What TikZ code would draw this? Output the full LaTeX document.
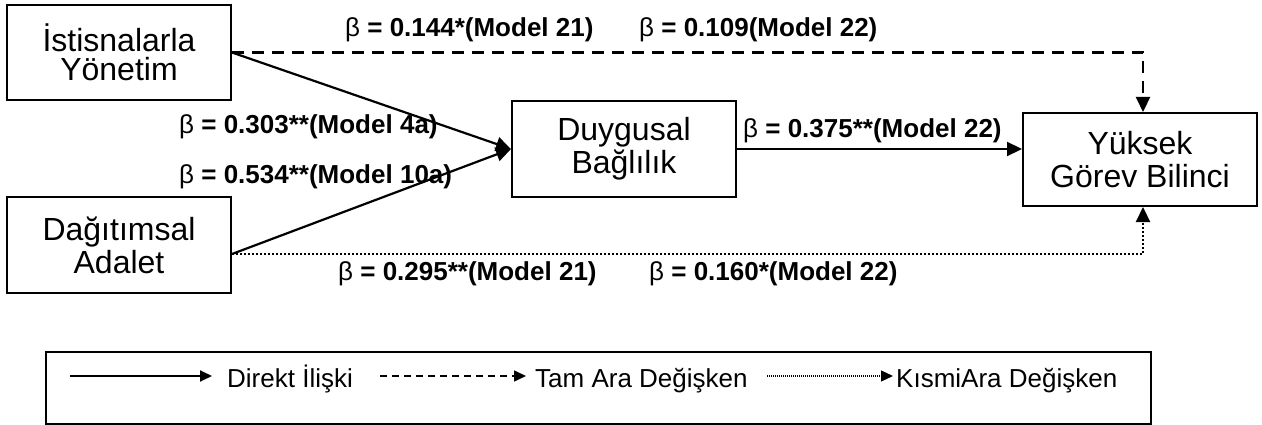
\documentclass[tikz,border=0pt]{standalone}
\usepackage{fontspec}
\setmainfont{Liberation Sans}
\usetikzlibrary{arrows.meta}
\tikzset{
  x=1pt,y=-1pt,
  box/.style={draw,line width=2pt,inner sep=0pt,align=center,font=\fontsize{32}{33}\selectfont},
  lbl/.style={anchor=base west,inner sep=0pt,font=\fontsize{26}{28}\selectfont},
  legtxt/.style={anchor=base west,inner sep=0pt,font=\fontsize{26}{28}\selectfont},
  conn/.style={line width=2.2pt,-{Triangle[length=15pt,width=14pt]}},
  dashconn/.style={conn,dash pattern=on 12pt off 8pt},
  dotconn/.style={conn,dash pattern=on 2pt off 2pt},
  legconn/.style={line width=1.8pt,-{Triangle[length=12pt,width=11pt]}},
}
\newcommand{\bl}[1]{β\textbf{ = #1}}
\begin{document}
\begin{tikzpicture}
\useasboundingbox (0,0) rectangle (1262,425);
% boxes
\node[box,minimum width=224pt,minimum height=95pt,font=\fontsize{32}{29}\selectfont] (b1) at (119,52.5) {İstisnalarla\\Yönetim};
\node[box,minimum width=224pt,minimum height=96pt] (b2) at (119,245) {Dağıtımsal\\Adalet};
\node[box,minimum width=224pt,minimum height=96pt] (b3) at (624,149) {Duygusal\\Bağlılık};
\node[box,minimum width=234pt,minimum height=93pt] (b4) at (1140,159.5) {Yüksek\\Görev Bilinci};
% connectors
\draw[conn] (b1.east) -- (b3.west);
\draw[conn] ([yshift=-9pt]b2.east) -- (b3.west);
\draw[conn] (b3.east) -- (b3.east -| b4.west);
\draw[dashconn] (b1.east) -| ([xshift=3pt]b4.north);
\draw[dotconn] ([yshift=-9pt]b2.east) -| ([xshift=3pt]b4.south);
% labels
\node[lbl] (l1) at (345,37) {\bl{0.144*(Model 21)}};
\node[lbl] (l2) at (639,37) {\bl{0.109(Model 22)}};
\node[lbl] (l3) at (179,134) {\bl{0.303**(Model 4a)}};
\node[lbl] (l4) at (179,184) {\bl{0.534**(Model 10a)}};
\node[lbl] (l5) at (743,138) {\bl{0.375**(Model 22)}};
\node[lbl] (l6) at (338,280) {\bl{0.295**(Model 21)}};
\node[lbl] (l7) at (649,280) {\bl{0.160*(Model 22)}};
% legend
\node[draw,line width=2.2pt,minimum width=1105pt,minimum height=72pt,inner sep=0pt] (leg) at (598.5,388) {};
\coordinate (s1) at (70,376);
\coordinate (e1) at (212,376);
\coordinate (s2) at (380,376);
\coordinate (e2) at (526,376);
\coordinate (s3) at (767,376);
\coordinate (e3) at (893,376);
\draw[legconn] (s1) -- (e1);
\draw[legconn,dash pattern=on 7pt off 5pt,line width=1.5pt] (s2) -- (e2);
\draw[legconn,dash pattern=on 1pt off 1pt,line width=1.2pt] (s3) -- (e3);
\node[legtxt] (t1) at (227,387) {Direkt İlişki};
\node[legtxt] (t2) at (535,387) {Tam Ara Değişken};
\node[legtxt] (t3) at (896,387) {KısmiAra Değişken};
\end{tikzpicture}
\end{document}
